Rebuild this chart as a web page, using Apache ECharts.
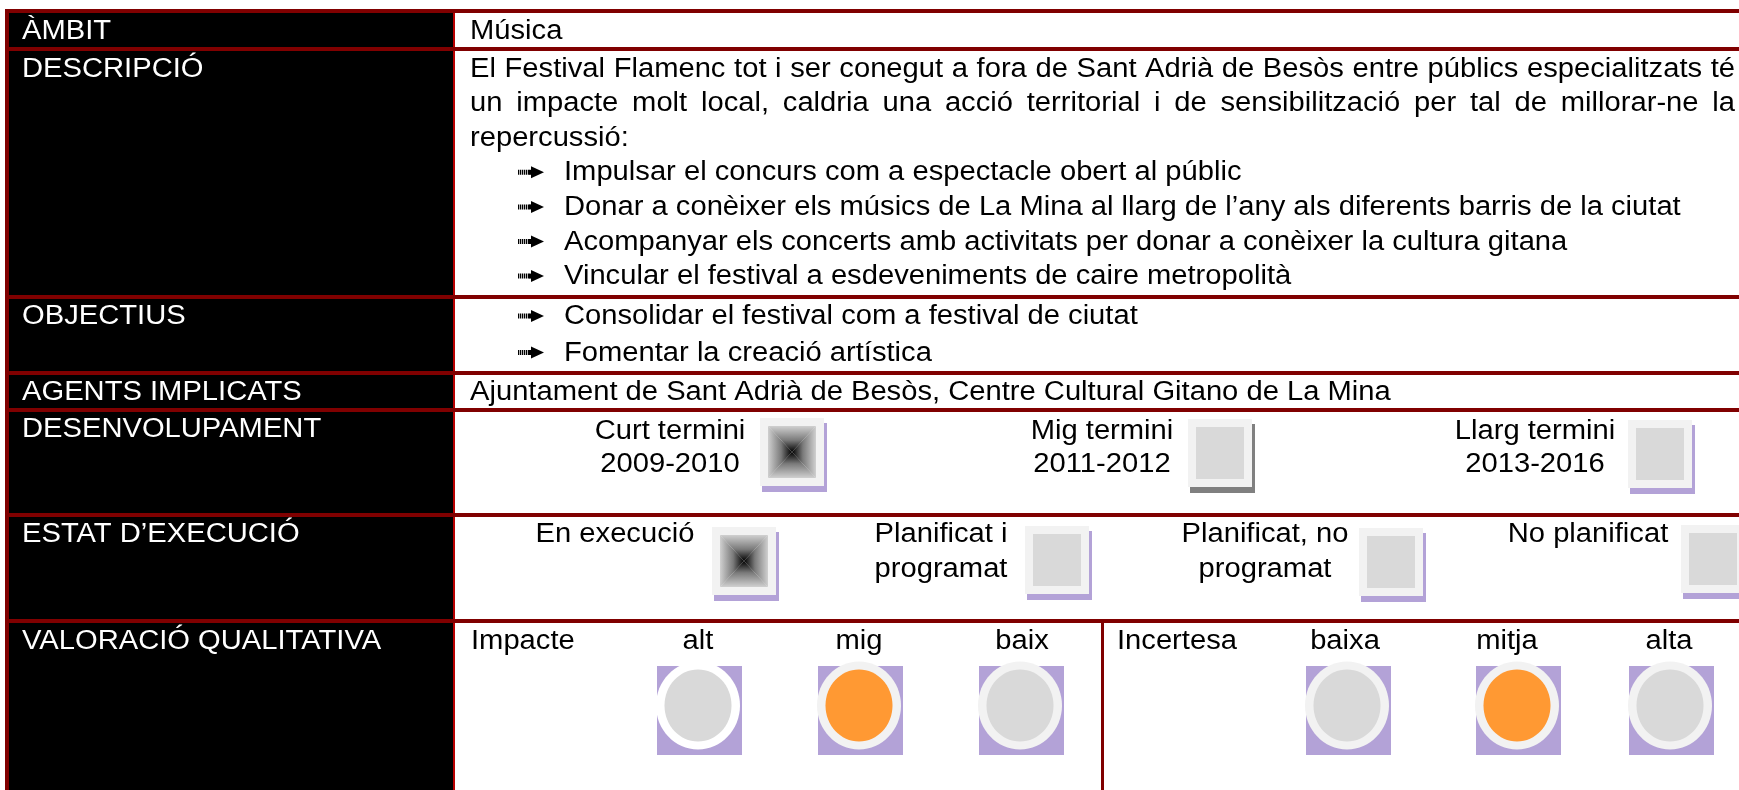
<!DOCTYPE html>
<html><head><meta charset="utf-8">
<script src="https://cdn.jsdelivr.net/npm/echarts@6/dist/echarts.min.js"></script>
<style>html,body{margin:0;padding:0;background:#fff}#c{width:1739px;height:790px}</style>
</head><body><div id="c"></div>
<script>
// ---------- content ----------
const rowLabels = ['ÀMBIT','DESCRIPCIÓ','OBJECTIUS','AGENTS IMPLICATS','DESENVOLUPAMENT','ESTAT D’EXECUCIÓ','VALORACIÓ QUALITATIVA'];
const ambitText = 'Música';
const descLines = [
  'El Festival Flamenc tot i ser conegut a fora de Sant Adrià de Besòs entre públics especialitzats té',
  'un impacte molt local, caldria una acció territorial i de sensibilització per tal de millorar-ne la',
  'repercussió:'
];
const descJustified = [true, true, false];
const descBullets = [
  'Impulsar el concurs com a espectacle obert al públic',
  'Donar a conèixer els músics de La Mina al llarg de l’any als diferents barris de la ciutat',
  'Acompanyar els concerts amb activitats per donar a conèixer la cultura gitana',
  'Vincular el festival a esdeveniments de caire metropolità'
];
const objectiveBullets = ['Consolidar el festival com a festival de ciutat','Fomentar la creació artística'];
const agentsText = 'Ajuntament de Sant Adrià de Besòs, Centre Cultural Gitano de La Mina';
const devTerms = ['Curt termini','Mig termini','Llarg termini'];
const devPeriods = ['2009-2010','2011-2012','2013-2016'];
const devActive = [1, 0, 0];
const execStates = [['En execució'],['Planificat i','programat'],['Planificat, no','programat'],['No planificat']];
const execActive = [1, 0, 0, 0];
const impactTitle = 'Impacte';
const impactLevels = ['alt','mig','baix'];
const impactValues = [0, 1, 0];
const uncertTitle = 'Incertesa';
const uncertLevels = ['baixa','mitja','alta'];
const uncertValues = [0, 1, 0];

// ---------- layout ----------
const FONT = "'Liberation Sans', Arial, Helvetica, sans-serif";
const FS = 27, SX = 1.08, BASE_OFF = 8.4;
const W = 1739, H = 790;
const DARK = '#800000', DIV = '#b80000', LAV = '#b3a2d7', RING = '#f2f2f2', GREY = '#d9d9d9', ORANGE = '#ff9933';
const rowLines = [11, 49, 297, 373, 410, 515, 621];
const labelBase = [40, 78, 325, 401, 438, 543, 650];
const colX = 454, textX = 470, textR = 1735;

const els = [];
const mctx = document.createElement('canvas').getContext('2d');
mctx.font = FS + 'px ' + FONT;
function mw(s){ return mctx.measureText(s).width * SX; }

function txt(s, x, base, fill, align){
  els.push({type:'text', x:x, y:base - BASE_OFF, scaleX:SX, z:20,
    style:{text:s, x:0, y:0, font:FS + 'px ' + FONT, fill:fill || '#000', align:align || 'left', verticalAlign:'middle'}});
}
function justify(s, x0, x1, base){
  const words = s.split(' ');
  const widths = words.map(mw);
  const total = widths.reduce((a,b)=>a+b,0);
  const gap = (x1 - x0 - total) / (words.length - 1);
  let x = x0;
  words.forEach((w,i)=>{ txt(w, x, base); x += widths[i] + gap; });
}
function rect(x,y,w,h,fill,z){ els.push({type:'rect', z:z||5, shape:{x:x,y:y,width:w,height:h}, style:{fill:fill}}); }
function arrow(x, base){
  const cy = base - 9;
  for (let i = 0; i < 6; i++) rect(x + i*2, cy - 2.5, 1.3, 5, '#000', 20);
  rect(x + 11, cy - 2.5, 3, 5, '#000', 20);
  els.push({type:'polygon', z:20, shape:{points:[[x+13, cy-6],[x+26, cy],[x+13, cy+6]]}, style:{fill:'#000'}});
}
function lg(x,y,x2,y2){
  return {type:'linear', x:x, y:y, x2:x2, y2:y2, colorStops:[{offset:0,color:'#d0d0d0'},{offset:0.55,color:'#7a7a7a'},{offset:1,color:'#000'}]};
}
function square(x0, y0, active, shadow){
  const w = 64, h = 68;
  rect(x0 + 2, y0 + 5, w + 1, h + 1, shadow, 10);
  rect(x0, y0, w, h, RING, 11);
  const ix = x0 + 8, iy = y0 + 8, iw = 48, ih = 52;
  if (active) {
    const cx = ix + iw/2, cy = iy + ih/2;
    const tris = [
      [[[ix,iy],[ix+iw,iy],[cx,cy]], lg(0,0,0,1)],
      [[[ix,iy+ih],[ix+iw,iy+ih],[cx,cy]], lg(0,1,0,0)],
      [[[ix,iy],[ix,iy+ih],[cx,cy]], lg(0,0,1,0)],
      [[[ix+iw,iy],[ix+iw,iy+ih],[cx,cy]], lg(1,0,0,0)]
    ];
    tris.forEach(t => els.push({type:'polygon', z:12, shape:{points:t[0]}, style:{fill:t[1], stroke:null}}));
  } else {
    rect(ix, iy, iw, ih, GREY, 12);
  }
}
function dot(cx, active, ring){
  rect(cx - 41, 666, 85, 89, LAV, 10);
  els.push({type:'ellipse', z:11, shape:{cx:cx, cy:705.5, rx:42, ry:44}, style:{fill:ring}});
  els.push({type:'ellipse', z:12, shape:{cx:cx, cy:705.5, rx:33.5, ry:36}, style:{fill: active ? ORANGE : GREY}});
}

// ---------- table frame ----------
rect(8, 13, colX - 8, H - 13, '#000', 1);
rect(colX - 1, 13, 2, H - 13, DIV, 2);
rect(5, 9, 4, H - 9, DARK, 3);
rowLines.forEach(y => rect(5, y - 2, W - 5, 4, DARK, 4));
rect(1101, rowLines[6], 3, H - rowLines[6], DARK, 4);

// ---------- left labels ----------
rowLabels.forEach((s,i) => txt(s, 22, labelBase[i], '#fff'));

// ---------- right column ----------
txt(ambitText, textX, 40);
const lineStep = 34.6;
descLines.forEach((s,i) => {
  const b = 77.5 + i*lineStep;
  if (descJustified[i]) justify(s, textX, textR, b); else txt(s, textX, b);
});
descBullets.forEach((s,i) => {
  const b = 77.5 + (i + 3)*lineStep;
  arrow(518, b); txt(s, 564, b);
});
objectiveBullets.forEach((s,i) => {
  const b = 325 + i*36.5;
  arrow(518, b); txt(s, 564, b);
});
txt(agentsText, textX, 401);

// development
const devTextCx = [670, 1102, 1535];
const devIcon = [[760,418],[1188,419],[1628,420]];
const devShadow = [LAV, '#808080', LAV];
devTerms.forEach((s,i) => {
  txt(s, devTextCx[i], 440, '#000', 'center');
  txt(devPeriods[i], devTextCx[i], 473, '#000', 'center');
  square(devIcon[i][0], devIcon[i][1], devActive[i], devShadow[i]);
});

// execution state
const execTextCx = [615, 941, 1265, 1588];
const execIcon = [[712,527],[1025,526],[1359,528],[1681,525]];
execStates.forEach((lines,i) => {
  lines.forEach((s,j) => txt(s, execTextCx[i], 543 + j*34.5, '#000', 'center'));
  square(execIcon[i][0], execIcon[i][1], execActive[i], LAV);
});

// qualitative
txt(impactTitle, 471, 650);
txt(uncertTitle, 1117, 650);
const impTextCx = [698, 859, 1022], impDot = [698, 859, 1020];
impactLevels.forEach((s,i) => {
  txt(s, impTextCx[i], 650, '#000', 'center');
  dot(impDot[i], impactValues[i], i === 0 ? '#ffffff' : RING);
});
const uncTextCx = [1345, 1507, 1669], uncDot = [1347, 1517, 1670];
uncertLevels.forEach((s,i) => {
  txt(s, uncTextCx[i], 650, '#000', 'center');
  dot(uncDot[i], uncertValues[i], RING);
});

const chart = echarts.init(document.getElementById('c'), null, {renderer:'canvas', width:W, height:H});
chart.setOption({backgroundColor:'#ffffff', animation:false, graphic:{elements:els}});
</script></body></html>
